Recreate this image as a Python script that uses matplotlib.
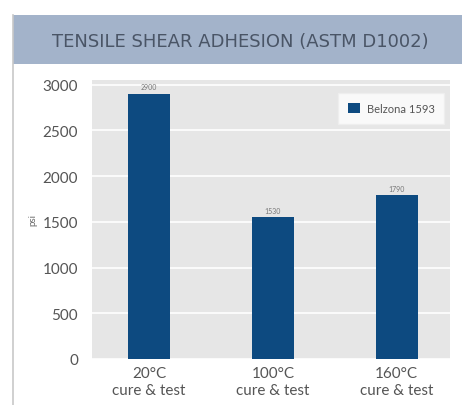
import matplotlib.pyplot as plt
from matplotlib.patches import Rectangle
from matplotlib.lines import Line2D

# datos
categorias = ["20°C\ncure & test", "100°C\ncure & test", "160°C\ncure & test"]
valores = [2900, 1550, 1790]
etiquetas = ["2900", "1530", "1790"]
serie = "Belzona 1593"
titulo = "TENSILE SHEAR ADHESION (ASTM D1002)"

plt.rcParams["font.family"] = ["Lato", "DejaVu Sans"]

fig = plt.figure(figsize=(4.62, 4.06), dpi=100)
W, H = 462, 406

# borde izquierdo y banda del titulo
fig.add_artist(Line2D([13 / W, 13 / W], [0, 1 - 16 / H], color="#c8c8c8", lw=1.2))
fig.add_artist(Rectangle((13 / W, 1 - 65 / H), 1 - 13 / W, 49 / H,
                         facecolor="#a3b3ca", edgecolor="none"))
fig.text(240 / W, 1 - 42 / H, titulo, ha="center", va="center",
         fontsize=13, color="#4a5566", family=["DejaVu Sans"])

ax = fig.add_axes([92 / W, 1 - 360 / H, (450 - 92) / W, (360 - 81) / H])
ax.set_facecolor("#e6e6e6")

x = range(len(categorias))
barras = ax.bar(x, valores, width=0.34, color="#0d4a80", label=serie, zorder=3)
for xi, v, t in zip(x, valores, etiquetas):
    ax.text(xi, v + 40, t, ha="center", va="bottom", fontsize=5, color="#777777")

ax.set_xlim(-0.46, 2.43)
ax.set_ylim(0, 3050)
ax.set_yticks(range(0, 3001, 500))
ax.grid(axis="y", color="white", lw=1.2, zorder=1)
ax.set_xticks(list(x))
ax.set_xticklabels(categorias, fontsize=11, color="#555555", linespacing=1.25)
ax.tick_params(axis="y", labelsize=11, labelcolor="#555555", length=0, pad=10)
ax.tick_params(axis="x", length=0, pad=5)
for s in ax.spines.values():
    s.set_visible(False)

ax.set_ylabel("psi", fontsize=7, color="#666666", labelpad=4)

leg = ax.legend(loc="upper right", bbox_to_anchor=(1.0, 0.975), fontsize=8,
                frameon=True, fancybox=False, handlelength=1.1, handleheight=1.1,
                borderpad=0.9, handletextpad=0.6)
leg.get_frame().set_facecolor("white")
leg.get_frame().set_edgecolor("#eeeeee")
for t in leg.get_texts():
    t.set_color("#555555")

fig.savefig("out.png", dpi=100)
